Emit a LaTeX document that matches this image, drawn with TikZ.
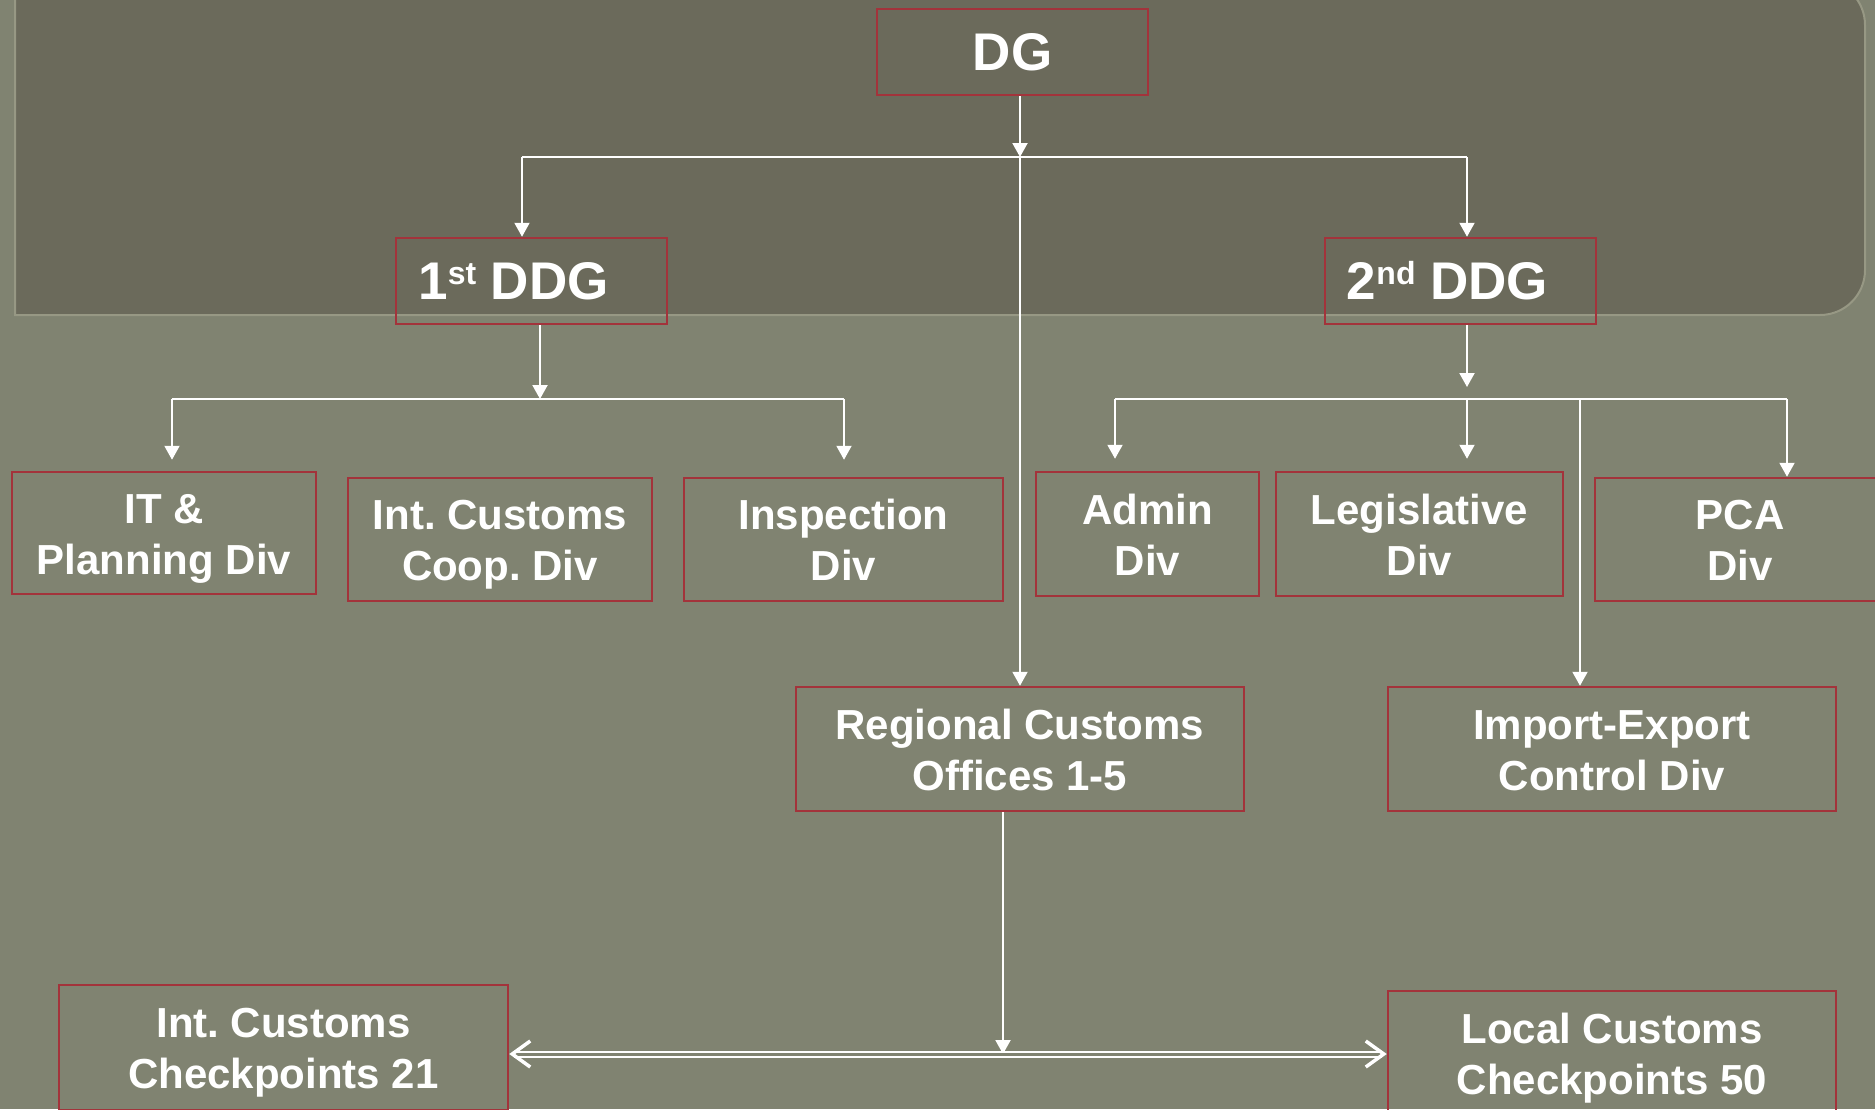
\documentclass[tikz,border=0pt]{standalone}
\usepackage{fontspec}
\setmainfont{Liberation Sans}
\usetikzlibrary{arrows.meta}
\frenchspacing

\definecolor{fieldgreen}{HTML}{808371}
\definecolor{panelgrey}{HTML}{6B6A5B}
\definecolor{paneledge}{HTML}{979884}
\definecolor{boxred}{HTML}{A3333B}

\tikzset{
  unit/.style={draw=boxred, line width=2.5pt, text=white, align=center,
    inner sep=0pt, text height=82pt, text depth=0pt,
    font=\fontsize{42}{51}\selectfont\bfseries},
  head/.style={draw=boxred, line width=2.5pt, text=white,
    inner sep=0pt, font=\fontsize{53}{60}\selectfont\bfseries},
  wire/.style={draw=white, line width=2pt},
  link/.style={wire, -{Triangle[length=14pt,width=15pt]}},
  pipe/.style={draw=white, line width=2pt, double=fieldgreen, double distance=3pt,
    {Straight Barb[length=18pt,width=26pt,line width=3.5pt]}-{Straight Barb[length=18pt,width=26pt,line width=3.5pt]}},
}

\newcommand{\ordinal}[1]{\raisebox{15pt}{\fontsize{32}{32}\selectfont #1}}
\newcommand{\drawUnit}[6]{
    \node[unit, minimum width=#4pt, minimum height=#5pt] (#1) at (#2,#3) {#6};
}

\begin{document}
\begin{tikzpicture}[x=1pt, y=-1pt]

\useasboundingbox (0,0) rectangle (1875,1109);
\fill[fieldgreen] (0,0) rectangle (1875,1109);

% Dark panel behind the top of the chart
\filldraw[fill=panelgrey, draw=paneledge, line width=2pt]
  (15,315) [rounded corners=45pt] -- (1865,315) -- (1865,-20)
  [sharp corners] -- (15,-20) -- cycle;

% Top of the chain
\node[head, minimum width=271pt, minimum height=86pt] (DG) at (1012.5,52) {DG};
\node[head, minimum width=271pt, minimum height=86pt] (ddgA) at (531.5,281)
  {1\ordinal{st} DDG\hspace*{36pt}};
\node[head, minimum width=271pt, minimum height=86pt] (ddgB) at (1460.5,281)
  {2\ordinal{nd} DDG\hspace*{26pt}};

% Divisions under the 1st DDG
\drawUnit{itp}{164}{533}{304}{122}{IT \&\\Planning Div}
\drawUnit{icd}{500}{539.5}{304}{123}{Int. Customs\\Coop. Div}
\drawUnit{ins}{843.5}{539.5}{319}{123}{Inspection\\Div}

% Divisions under the 2nd DDG
\drawUnit{adm}{1147.5}{534}{223}{124}{Admin\\Div}
\drawUnit{leg}{1419.5}{534}{287}{124}{Legislative\\Div}
\drawUnit{pca}{1740}{539.5}{290}{123}{PCA\\Div}
\drawUnit{iec}{1612}{749}{448}{124}{Import-Export\\Control Div}

% Field offices
\drawUnit{rco}{1020}{749}{448}{124}{Regional Customs\\Offices 1-5}
\drawUnit{icc}{283.5}{1047.5}{449}{125}{Int. Customs\\Checkpoints 21}
\drawUnit{lcc}{1612}{1053}{448}{124}{Local Customs\\Checkpoints 50}

% Junction points
\coordinate (hubTop) at (1020,157);
\coordinate (hubL) at (522,157);
\coordinate (hubR) at (1467,157);
\coordinate (hubA) at (540,399);
\coordinate (armA1) at (172,399);
\coordinate (armA2) at (844,399);
\coordinate (hubB) at (1467,399);
\coordinate (armB1) at (1115,399);
\coordinate (armB2) at (1787,399);
\coordinate (armB3) at (1580,399);
\coordinate (hubLow) at (1003,1054);

% DG to both deputies and the regions
\draw[link] (DG.south -| hubTop) -- (hubTop);
\draw[wire] (hubL) -- (hubR);
\draw[link] (hubL) -- (ddgA.north -| hubL);
\draw[link] (hubR) -- (ddgB.north -| hubR);
\draw[link] (hubTop) -- (rco.north);

% 1st DDG branch
\draw[link] (ddgA.south -| hubA) -- (hubA);
\draw[wire] (armA1) -- (armA2);
\draw[link, shorten >=11pt] (armA1) -- (itp.north -| armA1);
\draw[link, shorten >=17pt] (armA2) -- (ins.north -| armA2);

% 2nd DDG branch
\draw[link, shorten >=12pt] (ddgB.south -| hubB) -- (hubB);
\draw[wire] (armB1) -- (armB2);
\draw[link, shorten >=12pt] (armB1) -- (adm.north -| armB1);
\draw[link, shorten >=12pt] (hubB) -- (leg.north -| hubB);
\draw[link] (armB2) -- (pca.north -| armB2);
\draw[link] (armB3) -- (iec.north -| armB3);

% Regions down to the checkpoints
\draw[link] (rco.south -| hubLow) -- (hubLow);
\draw[pipe] (icc.east |- hubLow) -- (lcc.west |- hubLow);

\end{tikzpicture}
\end{document}
